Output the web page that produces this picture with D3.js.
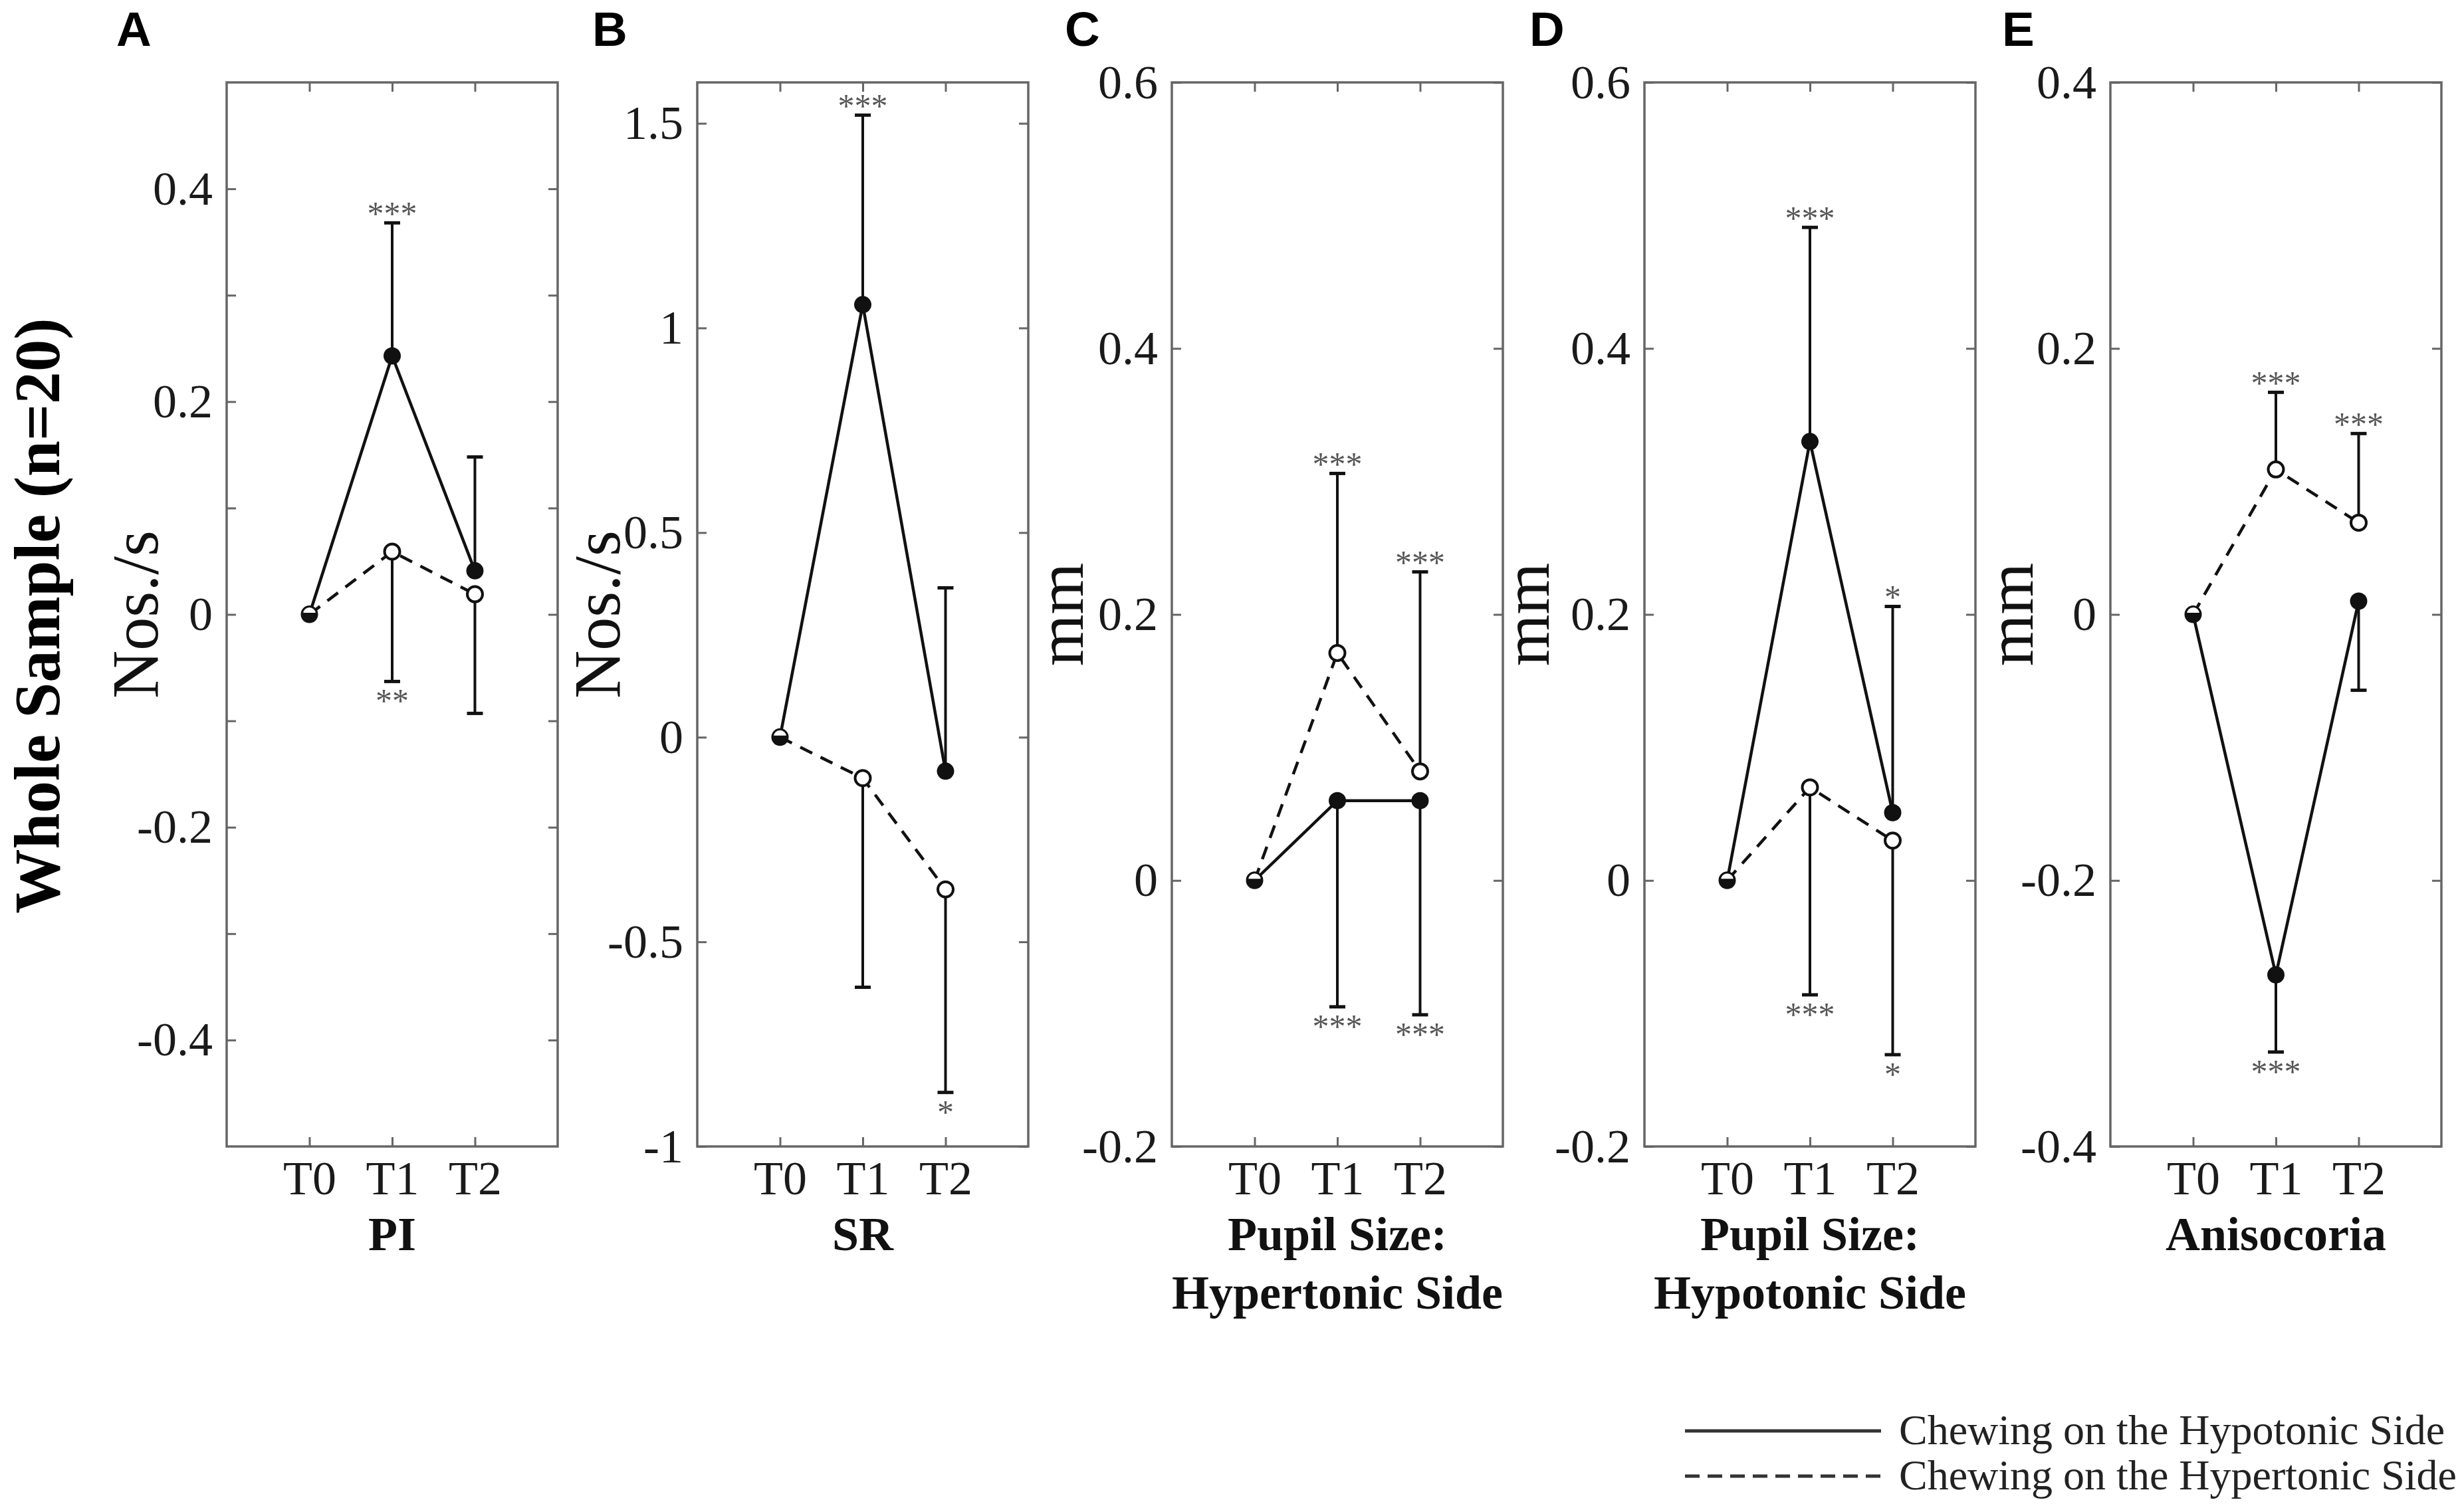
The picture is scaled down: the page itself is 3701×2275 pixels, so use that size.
<!DOCTYPE html>
<html>
<head>
<meta charset="utf-8">
<script src="https://cdn.jsdelivr.net/npm/d3@7"></script>
<style>
  body { margin: 0; background: #fff; }
  svg text { font-family: "Liberation Serif", "Times New Roman", serif; }
</style>
</head>
<body>
<div id="chart"></div>
<script>
// ---- data ----
const panelLetters = ["A", "B", "C", "D", "E"];
const measureNames = [["PI"], ["SR"], ["Pupil Size:", "Hypertonic Side"], ["Pupil Size:", "Hypotonic Side"], ["Anisocoria"]];
const unitLabels = ["Nos./s", "Nos./s", "mm", "mm", "mm"];
const timepoints = ["T0", "T1", "T2"];
const yDomains = [[-0.5, 0.5], [-1, 1.6], [-0.2, 0.6], [-0.2, 0.6], [-0.4, 0.4]];
const yTicks = [
    [-0.4, -0.3, -0.2, -0.1, 0, 0.1, 0.2, 0.3, 0.4],
    [-1, -0.5, 0, 0.5, 1, 1.5],
    [-0.2, 0, 0.2, 0.4, 0.6],
    [-0.2, 0, 0.2, 0.4, 0.6],
    [-0.4, -0.2, 0, 0.2, 0.4]
];
const yTickLabels = [
    [-0.4, -0.2, 0, 0.2, 0.4],
    [-1, -0.5, 0, 0.5, 1, 1.5],
    [-0.2, 0, 0.2, 0.4, 0.6],
    [-0.2, 0, 0.2, 0.4, 0.6],
    [-0.4, -0.2, 0, 0.2, 0.4]
];

// chewing on the hypotonic side (solid, filled markers)
const hypoMean  = [[0, 0.243, 0.041], [0, 1.057, -0.083], [0, 0.06, 0.06], [0, 0.33, 0.051], [0, -0.271, 0.01]];
const hypoBound = [[null, 0.368, 0.148], [null, 1.52, 0.365], [null, -0.095, -0.101], [null, 0.491, 0.206], [null, -0.329, -0.057]];
const hypoStars = [["", "***", ""], ["", "***", ""], ["", "***", "***"], ["", "***", "*"], ["", "***", ""]];

// chewing on the hypertonic side (dashed, open markers)
const hyperMean  = [[0, 0.059, 0.019], [0, -0.1, -0.372], [0, 0.171, 0.082], [0, 0.07, 0.03], [0, 0.109, 0.069]];
const hyperBound = [[null, -0.063, -0.093], [null, -0.611, -0.868], [null, 0.306, 0.232], [null, -0.086, -0.131], [null, 0.167, 0.136]];
const hyperStars = [["", "**", ""], ["", "", "*"], ["", "***", "***"], ["", "***", "*"], ["", "***", "***"]];

const legendLabels = ["Chewing on the Hypotonic Side", "Chewing on the Hypertonic Side"];

// ---- layout ----
var W = 3701, H = 2275;
var plotTop = 124, plotBottom = 1725, plotW = 498;
var panelLeft = [341, 1049, 1763, 2474, 3175];
var unitOffset = [-104, -117, -134, -144, -117];   // baseline of rotated unit label
var letterOffset = [-166, -158, -161, -173, -163];

var svg = d3.select("#chart")
    .append("svg")
    .attr("width", W)
    .attr("height", H);

svg.append("rect").attr("width", W).attr("height", H).attr("fill", "#fff");

var fmt = function (v) {
    return Math.abs(v) < 1e-9 ? "0" : String(+v.toFixed(2));
};

var halfArc = d3.arc().innerRadius(0).outerRadius(11).startAngle(-Math.PI / 2).endAngle(Math.PI / 2);

panelLetters.forEach(function (letter, p) {
    var g = svg.append("g").attr("transform", "translate(" + panelLeft[p] + "," + plotTop + ")");
    var h = plotBottom - plotTop;

    var x = d3.scalePoint().domain(timepoints).range([0, plotW]).padding(1);
    var y = d3.scaleLinear().domain(yDomains[p]).range([h, 0]);

    var labels = yTickLabels[p];
    var yFmt = function (d) {
        return labels.some(function (l) { return Math.abs(l - d) < 1e-9; }) ? fmt(d) : "";
    };

    // axes (ticks pointing inward, mirrored on top/right)
    var left = g.append("g").call(d3.axisLeft(y).tickValues(yTicks[p]).tickSizeInner(-14).tickSizeOuter(0).tickPadding(21).tickFormat(yFmt));
    var right = g.append("g").attr("transform", "translate(" + plotW + ",0)")
        .call(d3.axisRight(y).tickValues(yTicks[p]).tickSizeInner(-14).tickSizeOuter(0).tickFormat(""));
    var top = g.append("g").call(d3.axisTop(x).tickSizeInner(-14).tickSizeOuter(0).tickFormat(""));
    var bottom = g.append("g").attr("transform", "translate(0," + h + ")")
        .call(d3.axisBottom(x).tickSizeInner(-14).tickSizeOuter(0).tickPadding(21));

    [left, right, top, bottom].forEach(function (a) {
        a.attr("font-family", null);
        a.select(".domain").remove();
        a.selectAll(".tick line").attr("stroke", "#666").attr("stroke-width", 3);
        a.selectAll(".tick text")
            .style("font-family", "'Liberation Serif', 'Times New Roman', serif")
            .attr("fill", "#1a1a1a");
    });
    left.selectAll(".tick text").attr("font-size", 72);
    bottom.selectAll(".tick text").attr("font-size", 72);

    g.append("rect")
        .attr("width", plotW)
        .attr("height", h)
        .attr("fill", "none")
        .attr("stroke", "#666")
        .attr("stroke-width", 3.5);

    // lines
    var line = d3.line()
        .x(function (d, i) { return x(timepoints[i]); })
        .y(function (d) { return y(d); });

    g.append("path")
        .attr("d", line(hyperMean[p]))
        .attr("fill", "none")
        .attr("stroke", "#111")
        .attr("stroke-width", 4.5)
        .attr("stroke-dasharray", "20,14");

    g.append("path")
        .attr("d", line(hypoMean[p]))
        .attr("fill", "none")
        .attr("stroke", "#111")
        .attr("stroke-width", 4.5);

    // one-sided error bars + significance stars
    var series = [
        { mean: hypoMean[p], bound: hypoBound[p], stars: hypoStars[p] },
        { mean: hyperMean[p], bound: hyperBound[p], stars: hyperStars[p] }
    ];
    series.forEach(function (s) {
        s.bound.forEach(function (b, i) {
            if (b === null) return;
            var cx = x(timepoints[i]);
            g.append("line")
                .attr("x1", cx).attr("x2", cx)
                .attr("y1", y(s.mean[i])).attr("y2", y(b))
                .attr("stroke", "#111").attr("stroke-width", 4);
            g.append("line")
                .attr("x1", cx - 12).attr("x2", cx + 12)
                .attr("y1", y(b)).attr("y2", y(b))
                .attr("stroke", "#111").attr("stroke-width", 5);
            if (s.stars[i]) {
                var up = b > s.mean[i];
                g.append("text")
                    .attr("x", cx)
                    .attr("y", y(b) + (up ? 3 : 46))
                    .attr("text-anchor", "middle")
                    .attr("font-size", 50)
                    .attr("fill", "#555")
                    .text(s.stars[i]);
            }
        });
    });

    // markers
    hypoMean[p].forEach(function (v, i) {
        g.append("circle")
            .attr("cx", x(timepoints[i])).attr("cy", y(v)).attr("r", 13)
            .attr("fill", "#111");
    });
    hyperMean[p].forEach(function (v, i) {
        if (v === hypoMean[p][i]) {
            // coincident points: open marker sits on the filled one (half and half)
            g.append("path")
                .attr("transform", "translate(" + x(timepoints[i]) + "," + (y(v) - 1) + ")")
                .attr("d", halfArc())
                .attr("fill", "#fff")
                .attr("stroke", "#111")
                .attr("stroke-width", 3);
            return;
        }
        g.append("circle")
            .attr("cx", x(timepoints[i])).attr("cy", y(v)).attr("r", 11.5)
            .attr("fill", "#fff")
            .attr("stroke", "#111")
            .attr("stroke-width", 4);
    });

    // unit label
    g.append("text")
        .attr("transform", "translate(" + unitOffset[p] + "," + (h / 2) + ") rotate(-90)")
        .attr("text-anchor", "middle")
        .attr("font-size", 100)
        .attr("fill", "#111")
        .text(unitLabels[p]);

    // measure name
    measureNames[p].forEach(function (t, k) {
        g.append("text")
            .attr("x", plotW / 2)
            .attr("y", h + 156 + k * 88)
            .attr("text-anchor", "middle")
            .attr("font-size", 72)
            .attr("font-weight", "bold")
            .attr("fill", "#111")
            .text(t);
    });

    // panel letter
    svg.append("text")
        .attr("x", panelLeft[p] + letterOffset[p])
        .attr("y", 69)
        .style("font-family", "'Liberation Sans', Arial, sans-serif")
        .attr("font-weight", "bold")
        .attr("font-size", 73)
        .attr("fill", "#000")
        .text(letter);
});

// row title
svg.append("text")
    .attr("transform", "translate(89," + ((plotTop + plotBottom) / 2 + 2) + ") rotate(-90)")
    .attr("text-anchor", "middle")
    .attr("font-size", 97)
    .attr("font-weight", "bold")
    .attr("fill", "#000")
    .text("Whole Sample (n=20)");

// legend
var legend = svg.append("g").attr("transform", "translate(2535,2153)");
legendLabels.forEach(function (t, k) {
    legend.append("line")
        .attr("x1", 0).attr("x2", 295)
        .attr("y1", k * 68).attr("y2", k * 68)
        .attr("stroke", "#333")
        .attr("stroke-width", 5)
        .attr("stroke-dasharray", k === 1 ? "22,12" : null);
    legend.append("text")
        .attr("x", 322)
        .attr("y", k * 68 + 20)
        .attr("font-size", 64)
        .attr("fill", "#222")
        .text(t);
});
</script>
</body>
</html>
